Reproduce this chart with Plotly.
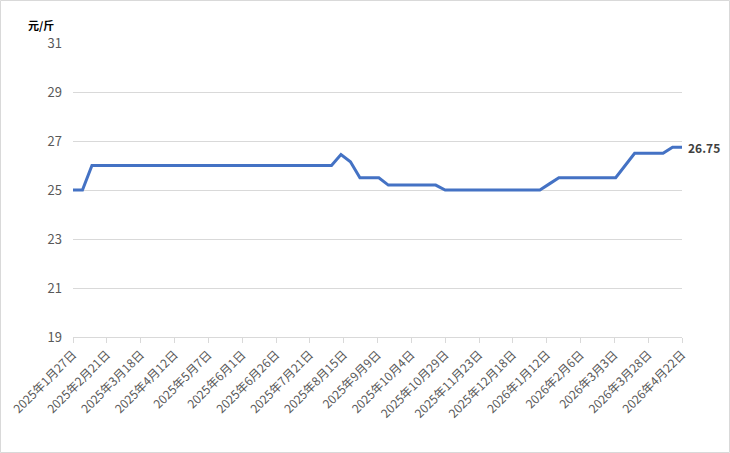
import plotly.graph_objects as go

dates = [
    "2025-01-27", "2025-02-03", "2025-02-10", "2025-02-17", "2025-02-24", "2025-03-03", "2025-03-10",
    "2025-03-17", "2025-03-24", "2025-03-31", "2025-04-07", "2025-04-14", "2025-04-21", "2025-04-28",
    "2025-05-07", "2025-05-14", "2025-05-21", "2025-05-28", "2025-06-04", "2025-06-11", "2025-06-18",
    "2025-06-25", "2025-07-02", "2025-07-09", "2025-07-16", "2025-07-23", "2025-07-30", "2025-08-06",
    "2025-08-13", "2025-08-20", "2025-08-27", "2025-09-03", "2025-09-10", "2025-09-17", "2025-09-24",
    "2025-10-01", "2025-10-08", "2025-10-15", "2025-10-22", "2025-10-29", "2025-11-05", "2025-11-12",
    "2025-11-19", "2025-11-26", "2025-12-03", "2025-12-10", "2025-12-17", "2025-12-24", "2025-12-31",
    "2026-01-07", "2026-01-14", "2026-01-21", "2026-01-28", "2026-02-04", "2026-02-11", "2026-02-18",
    "2026-02-25", "2026-03-04", "2026-03-11", "2026-03-18", "2026-03-25", "2026-04-01", "2026-04-08",
    "2026-04-15", "2026-04-22",
]
prices = [
    25, 25, 26, 26, 26, 26, 26,
    26, 26, 26, 26, 26, 26, 26,
    26, 26, 26, 26, 26, 26, 26,
    26, 26, 26, 26, 26, 26, 26,
    26.45, 26.15, 25.5, 25.5, 25.5, 25.2, 25.2,
    25.2, 25.2, 25.2, 25.2, 25, 25, 25,
    25, 25, 25, 25, 25, 25, 25,
    25, 25.25, 25.5, 25.5, 25.5, 25.5, 25.5,
    25.5, 25.5, 26.0, 26.5, 26.5, 26.5, 26.5,
    26.75, 26.75,
]

tick_vals = [
    "2025-01-27", "2025-02-21", "2025-03-18", "2025-04-12", "2025-05-07", "2025-06-01",
    "2025-06-26", "2025-07-21", "2025-08-15", "2025-09-09", "2025-10-04", "2025-10-29",
    "2025-11-23", "2025-12-18", "2026-01-12", "2026-02-06", "2026-03-03", "2026-03-28",
    "2026-04-22",
]
tick_text = [
    "2025年1月27日", "2025年2月21日", "2025年3月18日", "2025年4月12日", "2025年5月7日", "2025年6月1日",
    "2025年6月26日", "2025年7月21日", "2025年8月15日", "2025年9月9日", "2025年10月4日", "2025年10月29日",
    "2025年11月23日", "2025年12月18日", "2026年1月12日", "2026年2月6日", "2026年3月3日", "2026年3月28日",
    "2026年4月22日",
]
y_ticks = [19, 21, 23, 25, 27, 29, 31]
unit_label = "元/斤"

FONT = "Noto Sans CJK SC"
W, H = 730, 453
L, R, T, B = 73, 48, 43, 116
pw, ph = W - L - R, H - T - B

fig = go.Figure()
fig.add_trace(go.Scatter(
    x=dates, y=prices, mode="lines",
    line=dict(color="#4472C4", width=3),
    hoverinfo="skip",
))

fig.add_annotation(
    x=dates[-1], y=prices[-1], text="<b>%.2f</b>" % prices[-1],
    showarrow=False, xanchor="left", yanchor="middle", xshift=4,
    font=dict(family=FONT, size=12, color="#404040"),
)
fig.add_annotation(
    xref="paper", yref="paper", x=(26 - L) / pw, y=(H - B - 25) / ph,
    text="<b>" + unit_label + "</b>", showarrow=False, xanchor="left", yanchor="middle",
    font=dict(family=FONT, size=11, color="#000000"),
)

fig.add_shape(
    type="rect", xref="paper", yref="paper",
    x0=(-L + 0.5) / pw, x1=(pw + R - 0.5) / pw,
    y0=(-B + 0.5) / ph, y1=(ph + T - 0.5) / ph,
    line=dict(color="#d9d9d9", width=1), fillcolor="rgba(0,0,0,0)", layer="below",
)

fig.update_layout(
    width=W, height=H,
    margin=dict(l=L, r=R, t=T, b=B, pad=0, autoexpand=False),
    paper_bgcolor="white", plot_bgcolor="white",
    showlegend=False,
    font=dict(family=FONT, size=12, color="#595959"),
    xaxis=dict(
        type="date", range=["2025-01-27", "2026-04-22"],
        tickmode="array", tickvals=tick_vals, ticktext=tick_text,
        tickangle=-45, ticks="outside", ticklen=5, tickcolor="#d9d9d9",
        showgrid=False, showline=True, linecolor="#d9d9d9", linewidth=1,
        tickfont=dict(family=FONT, size=12, color="#595959"),
        zeroline=False, fixedrange=True, automargin=False,
    ),
    yaxis=dict(
        range=[19, 31], tickmode="array", tickvals=y_ticks,
        showgrid=True, gridcolor="#d9d9d9", gridwidth=1,
        showline=False, zeroline=False, ticks="",
        ticklabelstandoff=10, automargin=False,
        tickfont=dict(family=FONT, size=13, color="#595959"),
        fixedrange=True,
    ),
)

fig.write_html("out.html")
